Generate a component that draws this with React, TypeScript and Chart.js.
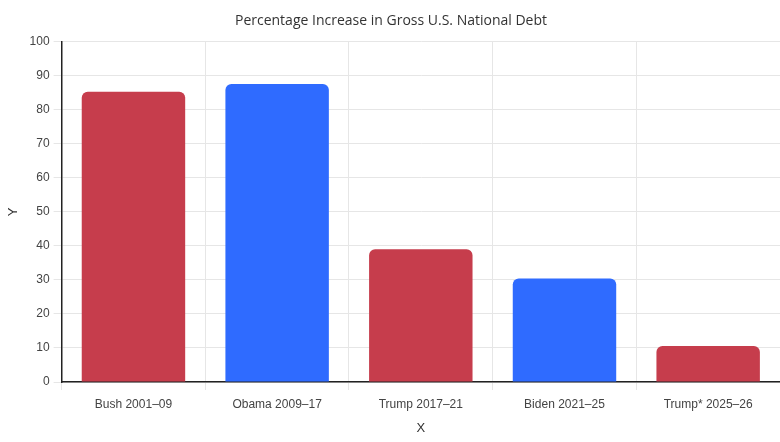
import React, { useEffect, useRef } from "react";
import { Chart, registerables } from "chart.js";

Chart.register(...registerables);

const categories = ["Bush 2001–09", "Obama 2009–17", "Trump 2017–21", "Biden 2021–25", "Trump* 2025–26"];
const values = [85.3, 87.6, 39.0, 30.4, 10.6];
const barColors = ["#C63D4C", "#2F6BFF", "#C63D4C", "#2F6BFF", "#C63D4C"];
const titleText = "Percentage Increase in Gross U.S. National Debt";

export default function App() {
  const ref = useRef<HTMLCanvasElement>(null);
  useEffect(() => {
    document.body.style.margin = "0";
    const chart = new Chart(ref.current!, {
      type: "bar",
      data: {
        labels: categories,
        datasets: [
          {
            data: values,
            backgroundColor: barColors,
            borderRadius: 6,
            borderSkipped: "bottom",
          },
        ],
      },
      options: {
        animation: false,
        responsive: false,
        maintainAspectRatio: false,
        layout: { padding: { top: 4, right: 0, left: 2, bottom: 2 } },
        plugins: {
          legend: { display: false },
          tooltip: { enabled: false },
          title: {
            display: true,
            text: titleText,
            color: "#333",
            font: { family: "'Open Sans', sans-serif", size: 14, weight: "normal" },
            padding: { top: 9, bottom: 12 },
          },
        },
        scales: {
          x: {
            grid: { color: "#e6e6e6", offset: true, tickLength: 8 },
            border: { color: "#222", width: 1.5 },
            ticks: { color: "#444", font: { family: "'Liberation Sans', Arial, sans-serif", size: 12 }, padding: 7 },
            title: { display: true, text: "X", color: "#333", font: { family: "'Liberation Sans', Arial, sans-serif", size: 13 }, padding: { top: 2, bottom: 4 } },
          },
          y: {
            min: 0,
            max: 100,
            grid: { color: "#e6e6e6", tickLength: 8 },
            border: { color: "#222", width: 1.5 },
            ticks: { stepSize: 10, color: "#444", font: { family: "'Liberation Sans', Arial, sans-serif", size: 12 }, padding: 4 },
            title: { display: true, text: "Y", color: "#333", font: { family: "'Liberation Sans', Arial, sans-serif", size: 13 } },
          },
        },
      },
    });
    return () => chart.destroy();
  }, []);
  return <canvas ref={ref} width={780} height={442} style={{ display: "block" }} />;
}
